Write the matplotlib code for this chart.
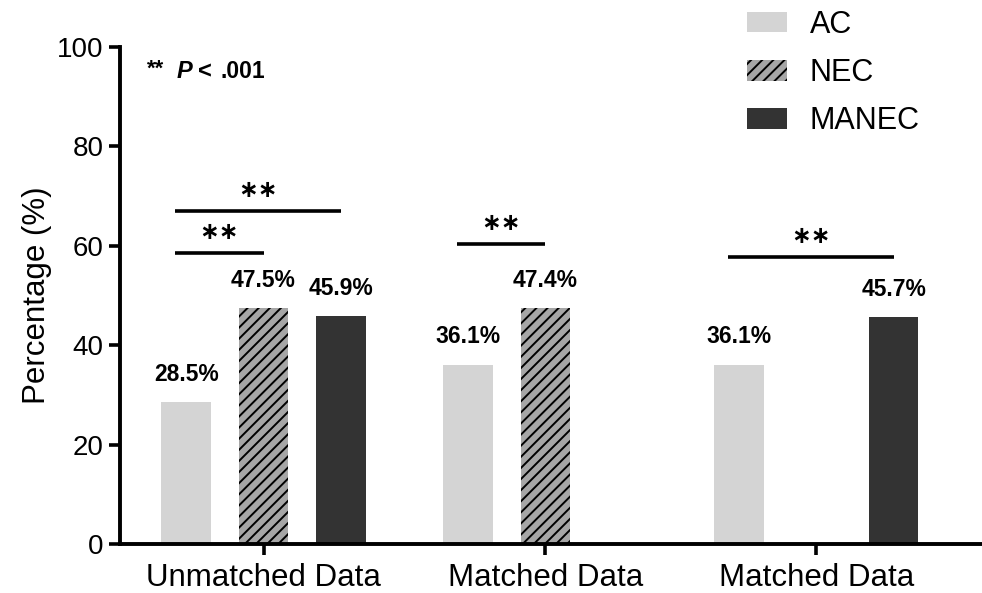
import matplotlib
matplotlib.use("Agg")
import matplotlib.pyplot as plt
import numpy as np

plt.rcParams['font.family'] = ['Liberation Sans', 'DejaVu Sans']
plt.rcParams['hatch.linewidth'] = 1.4

groups = ["Unmatched Data", "Matched Data", "Matched Data"]
series = ["AC", "NEC", "MANEC"]
# None = bar not shown in that group
ac = [28.5, 36.1, 36.1]
nec = [47.5, 47.4, None]
manec = [45.9, None, 45.7]

# significance brackets: (group, from series, to series, height)
sig_pairs = [(0, 0, 1, 58.5), (0, 0, 2, 67.0), (1, 0, 1, 60.4), (2, 0, 2, 57.7)]

colors = ["#d4d4d4", "#a6a6a6", "#333333"]
hatches = [None, "///", None]
offsets = [-0.28, 0.0, 0.28]
width = 0.18

fig = plt.figure(figsize=(9.82, 5.93), dpi=100)
ax = fig.add_axes([0.122, 0.0826, 0.878, 0.838])

x = np.array([0.0, 1.02, 2.0])
handles = []
for i, vals in enumerate([ac, nec, manec]):
    for g, v in enumerate(vals):
        if v is None:
            continue
        ax.bar(x[g] + offsets[i], v, width, color=colors[i],
               hatch=hatches[i], edgecolor="black" if hatches[i] else colors[i],
               linewidth=0)
        ax.text(x[g] + offsets[i], v + 5.6, f"{v}%", ha="center", va="center",
                fontsize=16.5, fontweight="bold")
    handles.append(plt.Rectangle((0, 0), 1, 1, facecolor=colors[i], hatch=hatches[i],
                                 edgecolor="black" if hatches[i] else colors[i], linewidth=0))

star_font = {"family": "DejaVu Sans", "weight": "bold", "size": 17}
for g, a, b, h in sig_pairs:
    x0 = x[g] + offsets[a] - 0.04
    x1 = x[g] + offsets[b]
    ax.plot([x0, x1], [h, h], color="black", lw=2.6, solid_capstyle="butt")
    ax.text((x0 + x1) / 2, h + 4.2, "\u2217\u2217", ha="center", va="center",
            fontdict=star_font)

ax.text(-0.42, 95.6, "**", fontsize=16, fontweight="bold", va="center", ha="left")
ax.text(-0.315, 95, "P", fontsize=17, fontweight="bold", fontstyle="italic",
        va="center", ha="left")
ax.text(-0.236, 95, "<", fontsize=17, fontweight="bold", va="center", ha="left")
ax.text(-0.155, 95, ".001", fontsize=16.5, fontweight="bold", va="center", ha="left")

ax.set_xlim(-0.52, 2.60)
ax.set_ylim(0, 100)
ax.set_yticks([0, 20, 40, 60, 80, 100])
ax.set_xticks(x)
ax.set_xticklabels(groups, fontsize=22.5)
ax.tick_params(axis="y", labelsize=20, width=2.6, length=8)
ax.tick_params(axis="x", width=2.6, length=8, pad=6)
ax.set_ylabel("Percentage (%)", fontsize=22.5)
for s in ["top", "right"]:
    ax.spines[s].set_visible(False)
for s in ["left", "bottom"]:
    ax.spines[s].set_linewidth(2.8)

fig.legend(handles, series, loc="upper left", bbox_to_anchor=(0.733, 1.03),
           frameon=False, fontsize=22, handlelength=1.3, handleheight=0.65,
           handletextpad=0.75, labelspacing=0.6)

fig.savefig("out.png", dpi=100)
